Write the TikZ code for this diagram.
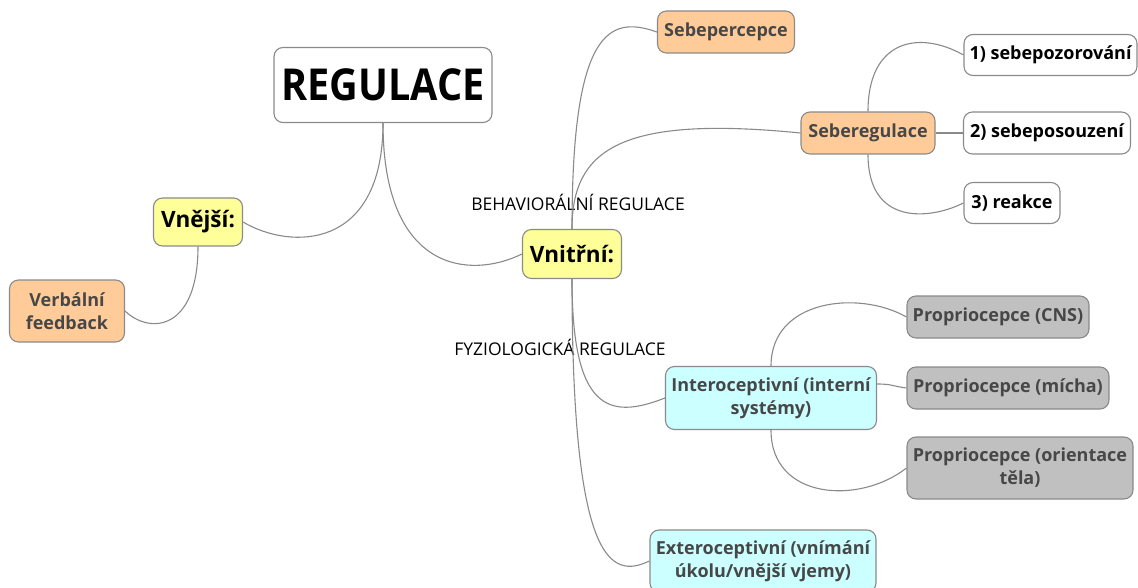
\documentclass[tikz,border=0pt]{standalone}
\usepackage{fontspec}
\setmainfont{Open Sans}
\newfontfamily\regfont[FakeStretch=0.9]{Open Sans}
\definecolor{edge}{HTML}{8A8A8A}
\definecolor{yel}{HTML}{FFFF99}
\definecolor{ora}{HTML}{FFCC99}
\definecolor{cya}{HTML}{CCFFFF}
\definecolor{gry}{HTML}{C0C0C0}
\definecolor{dtext}{HTML}{474747}
\tikzset{
  box/.style={draw=edge, line width=1.1pt, rounded corners=9pt, inner sep=0pt, align=center,
    font=\fontsize{18}{23}\selectfont\bfseries},
  yelbox/.style={box, fill=yel, text=black, font=\fontsize{22.5}{27}\selectfont\bfseries},
  orabox/.style={box, fill=ora, text=dtext},
  whibox/.style={box, fill=white, text=black},
  cyabox/.style={box, fill=cya, text=dtext},
  grybox/.style={box, fill=gry, text=dtext},
  lbl/.style={font=\fontsize{17.5}{20}\selectfont, text=black, inner sep=0pt},
  conn/.style={draw=edge, line width=1.1pt},
}
\begin{document}
\begin{tikzpicture}[x=1pt, y=-1pt]
\useasboundingbox (0,0) rectangle (1138,588);
% nodes
\node[box, fill=white, text=black, font=\fontsize{44}{50}\regfont\bfseries,
  minimum width=218pt, minimum height=75pt] (reg) at (383,85) {REGULACE};
\node[yelbox, minimum width=89pt, minimum height=48pt] (vnej) at (198,222) {Vnější:};
\node[yelbox, minimum width=99pt, minimum height=49pt] (vnit) at (572,254) {Vnitřní:};
\node[orabox, minimum width=115pt, minimum height=62pt] (verb) at (67,311) {Verbální\\feedback};
\node[orabox, minimum width=137pt, minimum height=42pt] (sperc) at (726,32) {Sebepercepce};
\node[orabox, minimum width=134pt, minimum height=42pt] (sreg) at (868,133) {Seberegulace};
\node[whibox, minimum width=173pt, minimum height=41pt] (s1) at (1050.5,55) {1) sebepozorování};
\node[whibox, minimum width=167pt, minimum height=42pt] (s2) at (1047,133) {2) sebeposouzení};
\node[whibox, minimum width=96pt, minimum height=41pt] (s3) at (1012,203) {3) reakce};
\node[cyabox, minimum width=211pt, minimum height=63pt] (intero) at (771,398) {Interoceptivní (interní\\systémy)};
\node[cyabox, minimum width=226pt, minimum height=62pt] (extero) at (763,561) {Exteroceptivní (vnímání\\úkolu/vnější vjemy)};
\node[grybox, minimum width=182pt, minimum height=42pt] (cns) at (998,317) {Propriocepce (CNS)};
\node[grybox, minimum width=202pt, minimum height=42pt] (micha) at (1008,388) {Propriocepce (mícha)};
\node[grybox, minimum width=226pt, minimum height=62pt] (orient) at (1020,468) {Propriocepce (orientace\\těla)};
\node[lbl] (beh) at (578,202) {BEHAVIORÁLNÍ REGULACE};
\node[lbl] (fyz) at (560,347) {FYZIOLOGICKÁ REGULACE};
% connectors
\draw[conn] (reg.south) .. controls +(0,128) and +(47,28) .. (vnej.east);
\draw[conn] (reg.south) .. controls +(0,148) and +(-53,26) .. (vnit.west);
\draw[conn] (vnej.south) .. controls +(0,84) and +(25,24) .. (verb.east);
\draw[conn] (vnit.north) .. controls +(0,-199) and +(-48,-17) .. (sperc.west);
\draw[conn] (vnit.north) .. controls +(0,-79) and +(-181,-18) .. (sreg.west);
\draw[conn] (sreg.north) .. controls +(0,-72) and +(-44,-25) .. (s1.west);
\draw[conn] (sreg.east) -- (s2.west);
\draw[conn] (sreg.south) .. controls +(0,71) and +(-34,17) .. (s3.west);
\draw[conn] (vnit.south) .. controls +(0,132) and +(-56,22) .. (intero.west);
\draw[conn] (vnit.south) .. controls +(0,282) and +(-40,19) .. (extero.west);
\draw[conn] (intero.north) .. controls +(0,-67) and +(-47,-27) .. (cns.west);
\draw[conn] ([yshift=14pt]intero.east) .. controls +(15,0) and +(-15,-2) .. (micha.west);
\draw[conn] (intero.south) .. controls +(0,70) and +(-47,37) .. (orient.west);
\end{tikzpicture}
\end{document}
